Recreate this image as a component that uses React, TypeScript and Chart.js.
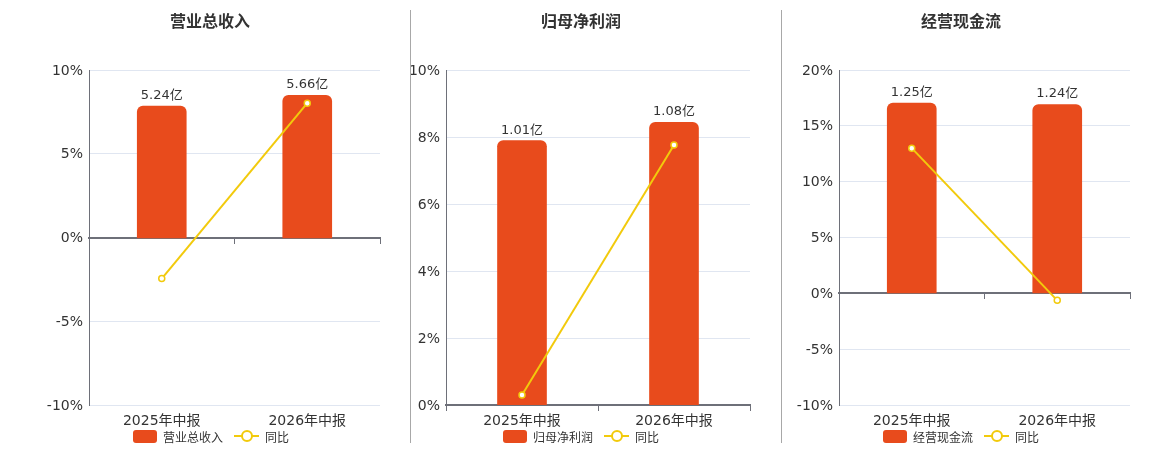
import { useEffect, useRef } from "react"
import { Chart, registerables } from "chart.js"

Chart.register(...registerables)

const categories = ["2025年中报", "2026年中报"]

const revenue = [5.24, 5.66]
const revenueYoY = [-2.45, 8.02]
const netProfit = [1.01, 1.08]
const netProfitYoY = [0.3, 7.76]
const cashFlow = [1.25, 1.24]
const cashFlowYoY = [13.0, -0.63]

const FONT = '"DejaVu Sans", "Noto Sans CJK SC", sans-serif'
const BAR_COLOR = "#E84B1C"
const LINE_COLOR = "#F2CA0C"
const AXIS_COLOR = "#6E7079"
const GRID_COLOR = "#E0E6F1"
const TEXT_COLOR = "#333"

// value labels above the bars ("5.24亿")
const barLabels = {
  id: "barLabels",
  afterDatasetsDraw(chart: any) {
    const ctx = chart.ctx
    chart.data.datasets.forEach((ds: any, i: number) => {
      if (ds.type !== "bar") return
      const meta = chart.getDatasetMeta(i)
      ctx.save()
      ctx.font = `13px ${FONT}`
      ctx.fillStyle = TEXT_COLOR
      ctx.textAlign = "center"
      ctx.textBaseline = "bottom"
      meta.data.forEach((el: any, j: number) => {
        ctx.fillText(`${ds.data[j]}亿`, el.x, el.y - 4)
      })
      ctx.restore()
    })
  },
}

type PanelProps = {
  title: string
  name: string
  bars: number[]
  yoy: number[]
  yMin: number
  yMax: number
  yStep: number
  barMin: number
  barMax: number
  left: number
  width: number
  axisWidth: number
  rightPad: number
  titleX: number
  legendX: number
}

function Panel(p: PanelProps) {
  const ref = useRef<HTMLCanvasElement>(null)
  const chartRef = useRef<Chart | null>(null)

  useEffect(() => {
    if (!ref.current) return
    const ctx = ref.current.getContext("2d")
    if (!ctx) return
    if (chartRef.current) chartRef.current.destroy()

    chartRef.current = new Chart(ctx, {
      data: {
        labels: categories,
        datasets: [
          {
            type: "line",
            label: "同比",
            data: p.yoy,
            yAxisID: "y",
            borderColor: LINE_COLOR,
            borderWidth: 2,
            pointRadius: 3,
            pointBackgroundColor: "#fff",
            pointBorderColor: LINE_COLOR,
            pointBorderWidth: 1.5,
            tension: 0,
            order: 0,
          },
          {
            type: "bar",
            label: p.name,
            data: p.bars,
            yAxisID: "y1",
            backgroundColor: BAR_COLOR,
            borderRadius: 6,
            barThickness: 49,
            order: 1,
          },
        ],
      } as any,
      options: {
        animation: false,
        responsive: false,
        maintainAspectRatio: false,
        layout: { padding: { top: 70, right: p.rightPad, left: 0, bottom: 0 } },
        plugins: {
          legend: { display: false },
          tooltip: { enabled: false },
          title: { display: false },
        },
        scales: {
          x: {
            type: "category",
            position: { y: 0 } as any,
            offset: true,
            ticks: { display: false },
            grid: {
              offset: true,
              drawOnChartArea: false,
              drawTicks: true,
              tickLength: 5,
              color: AXIS_COLOR,
            },
            border: { color: AXIS_COLOR, width: 2 },
          },
          x2: {
            type: "category",
            position: "bottom",
            offset: true,
            grid: { display: false },
            border: { display: false },
            ticks: {
              color: TEXT_COLOR,
              font: { family: FONT, size: 14 },
              padding: 0,
            },
            afterFit: (s: any) => {
              s.height = 45
            },
          },
          y: {
            min: p.yMin,
            max: p.yMax,
            ticks: {
              stepSize: p.yStep,
              callback: (v: any) => `${v}%`,
              color: TEXT_COLOR,
              font: { family: FONT, size: 14 },
              padding: 6,
              labelOffset: 1,
            },
            grid: { color: GRID_COLOR, drawTicks: false },
            border: { color: AXIS_COLOR, width: 1 },
            afterFit: (s: any) => {
              s.width = p.axisWidth
            },
          },
          y1: {
            display: false,
            min: p.barMin,
            max: p.barMax,
          },
        },
      } as any,
      plugins: [barLabels],
    })

    return () => {
      if (chartRef.current) {
        chartRef.current.destroy()
        chartRef.current = null
      }
    }
  }, [])

  return (
    <>
      <div
        style={{
          position: "absolute",
          left: p.left,
          top: 0,
          width: p.width,
          height: 450,
        }}
      >
        <canvas ref={ref} width={p.width} height={450} style={{ width: p.width, height: 450 }} />
      </div>
      <div
        style={{
          position: "absolute",
          left: p.titleX - 100,
          top: 12,
          width: 200,
          textAlign: "center",
          fontFamily: FONT,
          fontSize: 16,
          fontWeight: "bold",
          lineHeight: "20px",
          color: TEXT_COLOR,
        }}
      >
        {p.title}
      </div>
      <div
        style={{
          position: "absolute",
          left: p.legendX,
          top: 429,
          height: 14,
          display: "flex",
          alignItems: "center",
          fontFamily: FONT,
          fontSize: 12,
          color: TEXT_COLOR,
          whiteSpace: "nowrap",
        }}
      >
        <div style={{ width: 24, height: 13, background: BAR_COLOR, borderRadius: 3 }} />
        <span style={{ marginLeft: 6 }}>{p.name}</span>
        <div style={{ position: "relative", width: 25, height: 14, marginLeft: 11 }}>
          <div style={{ position: "absolute", left: 0, right: 0, top: 6, height: 2, background: LINE_COLOR }} />
          <div
            style={{
              position: "absolute",
              left: 7,
              top: 1,
              width: 8,
              height: 8,
              border: `2px solid ${LINE_COLOR}`,
              borderRadius: "50%",
              background: "#fff",
            }}
          />
        </div>
        <span style={{ marginLeft: 6 }}>同比</span>
      </div>
    </>
  )
}

export default function App() {
  return (
    <div style={{ position: "absolute", left: 0, top: 0, width: 1160, height: 450, background: "#fff" }}>
      <Panel
        title="营业总收入"
        name="营业总收入"
        bars={revenue}
        yoy={revenueYoY}
        yMin={-10}
        yMax={10}
        yStep={5}
        barMin={-6.63}
        barMax={6.67}
        left={0}
        width={410}
        axisWidth={89}
        rightPad={30}
        titleX={210}
        legendX={133}
      />
      <Panel
        title="归母净利润"
        name="归母净利润"
        bars={netProfit}
        yoy={netProfitYoY}
        yMin={0}
        yMax={10}
        yStep={2}
        barMin={0}
        barMax={1.28}
        left={410}
        width={371}
        axisWidth={36}
        rightPad={31}
        titleX={581}
        legendX={503}
      />
      <Panel
        title="经营现金流"
        name="经营现金流"
        bars={cashFlow}
        yoy={cashFlowYoY}
        yMin={-10}
        yMax={20}
        yStep={5}
        barMin={-0.737}
        barMax={1.467}
        left={781}
        width={379}
        axisWidth={58}
        rightPad={30}
        titleX={961}
        legendX={883}
      />
      <div style={{ position: "absolute", left: 410, top: 10, width: 1, height: 433, background: "#A8A8A8" }} />
      <div style={{ position: "absolute", left: 781, top: 10, width: 1, height: 433, background: "#A8A8A8" }} />
    </div>
  )
}
